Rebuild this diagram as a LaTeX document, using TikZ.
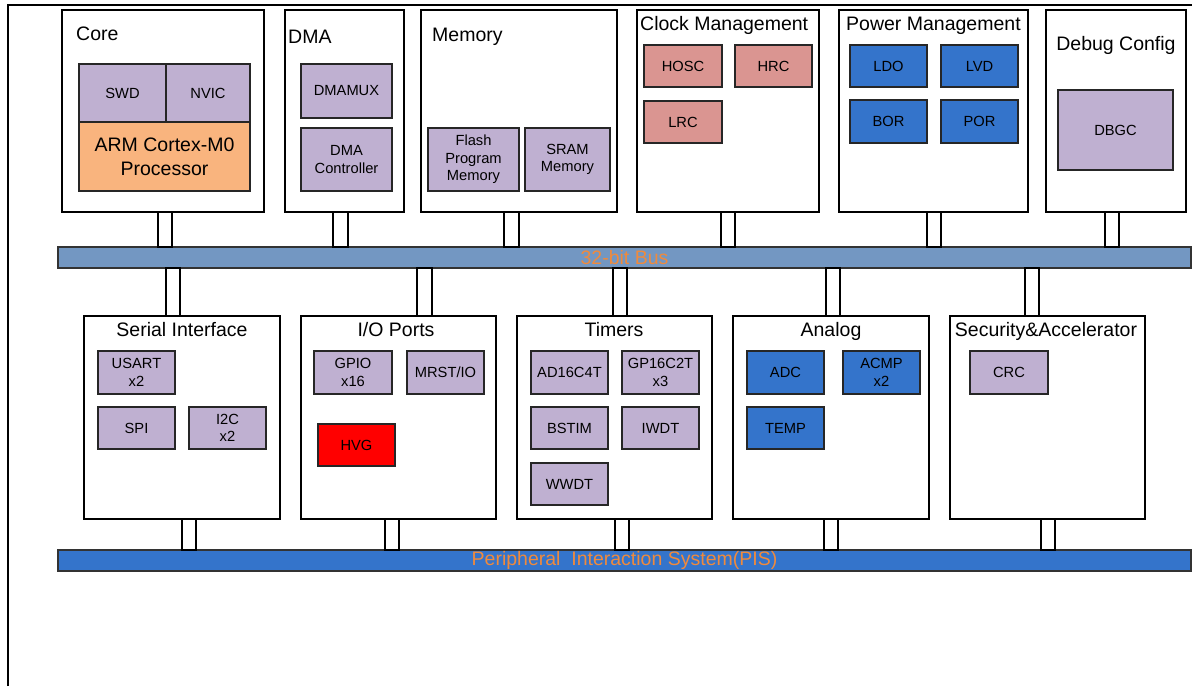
\documentclass[tikz,border=0pt]{standalone}
\usepackage{fontspec}
\setmainfont{Liberation Sans}
\definecolor{cpurple}{HTML}{BFB0D1}
\definecolor{corange}{HTML}{F9B47E}
\definecolor{cpink}{HTML}{DA9591}
\definecolor{cblue}{HTML}{3474CB}
\definecolor{cbus}{HTML}{7397C2}
\definecolor{clabel}{HTML}{F08A3C}
\newcommand{\blk}[7]{\node[#2, minimum width={(#5-#3)*1pt}, minimum height={(#6-#4)*1pt}] (#1) at ({(#3+#5)/2},{(#4+#6)/2}) {#7};}
\newcommand{\lnk}[5]{\coordinate (#1a) at (#2,0); \coordinate (#1b) at (#3,0);
  \draw[link] (#1a |- #4.south) rectangle (#1b |- #5.north);}
\begin{document}
\begin{tikzpicture}[x=1pt,y=-1pt,
  grp/.style={draw=black, line width=1.4pt, fill=white, inner sep=0pt, outer sep=0pt},
  unit/.style={draw=black!85, line width=1.7pt, inner sep=0pt, outer sep=0pt, align=center, font=\fontsize{14.7}{17.5}\selectfont},
  purp/.style={unit, fill=cpurple},
  pink/.style={unit, fill=cpink},
  blue/.style={unit, fill=cblue},
  redbox/.style={unit, fill=red},
  armbox/.style={unit, fill=corange, font=\fontsize{19.5}{24}\selectfont},
  bus/.style={draw=black!80, line width=1.4pt, inner sep=0pt, outer sep=0pt, text=clabel, font=\fontsize{19.5}{22}\selectfont},
  link/.style={draw=black, line width=1.4pt, fill=white},
  ttl/.style={inner sep=0pt, font=\fontsize{19.5}{22}\selectfont}]
\fill[white] (0,0) rectangle (1192,686);
\useasboundingbox (0,0) rectangle (1192,686);
\draw[line width=1.5pt] (8,686) -- (8,5) -- (1192,5);
% top groups
\blk{core}{grp}{62}{10}{264}{212}{}
\blk{dma}{grp}{285}{10}{404}{212}{}
\blk{mem}{grp}{421}{10}{617}{212}{}
\blk{clk}{grp}{637}{10}{819}{212}{}
\blk{pwr}{grp}{839}{10}{1028}{212}{}
\blk{dbg}{grp}{1046}{10}{1186}{212}{}
% bottom groups
\blk{ser}{grp}{84}{316}{280}{519}{}
\blk{io}{grp}{301}{316}{496}{519}{}
\blk{tim}{grp}{517}{316}{712}{519}{}
\blk{ana}{grp}{733}{316}{929}{519}{}
\blk{sec}{grp}{950}{316}{1145}{519}{}
% buses
\blk{bus32}{bus, fill=cbus}{58}{247}{1191}{268}{32-bit Bus}
\blk{pis}{bus, fill=cblue}{58}{550}{1191}{571}{Peripheral\ \ Interaction System(PIS)}
% links
\lnk{l1}{158}{172}{core}{bus32}
\lnk{l2}{333}{348}{dma}{bus32}
\lnk{l3}{504}{519}{mem}{bus32}
\lnk{l4}{721}{735}{clk}{bus32}
\lnk{l5}{927}{941}{pwr}{bus32}
\lnk{l6}{1105}{1119}{dbg}{bus32}
\lnk{m1}{166}{180}{bus32}{ser}
\lnk{m2}{417}{432}{bus32}{io}
\lnk{m3}{613}{627}{bus32}{tim}
\lnk{m4}{826}{840}{bus32}{ana}
\lnk{m5}{1025}{1039}{bus32}{sec}
\lnk{b1}{182}{196}{ser}{pis}
\lnk{b2}{385}{399}{io}{pis}
\lnk{b3}{615}{629}{tim}{pis}
\lnk{b4}{824}{838}{ana}{pis}
\lnk{b5}{1041}{1055}{sec}{pis}
% titles
\node[ttl, anchor=base west] (tcore) at (76,40) {Core};
\node[ttl, anchor=base west] (tdma) at (288,43) {DMA};
\node[ttl, anchor=base west] (tmem) at (432,41) {Memory};
\node[ttl, anchor=base west] (tclk) at (640,30.5) {Clock Management};
\node[ttl, anchor=base west] (tpwr) at (846,30.5) {Power Management};
\node[ttl, anchor=base] (tdbg) at (1116,50.5) {Debug Config};
\node[ttl, anchor=base] (tser) at (182,336.5) {Serial Interface};
\node[ttl, anchor=base] (tio) at (396,336.5) {I/O Ports};
\node[ttl, anchor=base] (ttim) at (614,336.5) {Timers};
\node[ttl, anchor=base] (tana) at (831,336.5) {Analog};
\node[ttl, anchor=base] (tsec) at (1046,336.5) {Security\&Accelerator};
% core
\blk{swd}{purp}{79}{64}{166}{122}{SWD}
\blk{nvic}{purp}{166}{64}{250}{122}{NVIC}
\blk{arm}{armbox}{79}{122}{250}{191}{ARM Cortex-M0\\Processor}
% dma
\blk{dmamux}{purp}{301}{64}{392}{118}{DMAMUX}
\blk{dmac}{purp}{301}{128}{392}{191}{DMA\\Controller}
% memory
\blk{flash}{purp}{428}{128}{519}{191}{Flash\\Program\\Memory}
\blk{sram}{purp}{525}{128}{610}{191}{SRAM\\Memory}
% clock
\blk{hosc}{pink}{644}{45}{722}{87}{HOSC}
\blk{hrc}{pink}{735}{45}{812}{87}{HRC}
\blk{lrc}{pink}{644}{101}{722}{143}{LRC}
% power
\blk{ldo}{blue}{850}{45}{927}{87}{LDO}
\blk{lvd}{blue}{941}{45}{1018}{87}{LVD}
\blk{bor}{blue}{850}{100}{927}{143}{BOR}
\blk{por}{blue}{941}{100}{1018}{143}{POR}
% debug
\blk{dbgc}{purp}{1058}{90}{1173}{170}{DBGC}
% serial
\blk{usart}{purp}{98}{351}{175}{394}{USART\\x2}
\blk{spi}{purp}{98}{407}{175}{449}{SPI}
\blk{i2c}{purp}{189}{407}{266}{449}{I2C\\x2}
% io
\blk{gpio}{purp}{314}{351}{392}{394}{GPIO\\x16}
\blk{mrst}{purp}{407}{351}{484}{394}{MRST/IO}
\blk{hvg}{redbox}{318}{424}{395}{466}{HVG}
% timers
\blk{ad16}{purp}{531}{351}{608}{394}{AD16C4T}
\blk{gp16}{purp}{622}{351}{699}{394}{GP16C2T\\x3}
\blk{bstim}{purp}{531}{407}{608}{449}{BSTIM}
\blk{iwdt}{purp}{622}{407}{699}{449}{IWDT}
\blk{wwdt}{purp}{531}{463}{608}{505}{WWDT}
% analog
\blk{adc}{blue}{747}{351}{824}{394}{ADC}
\blk{acmp}{blue}{843}{351}{920}{394}{ACMP\\x2}
\blk{temp}{blue}{747}{407}{824}{449}{TEMP}
% security
\blk{crc}{purp}{970}{351}{1048}{394}{CRC}
\end{tikzpicture}
\end{document}
